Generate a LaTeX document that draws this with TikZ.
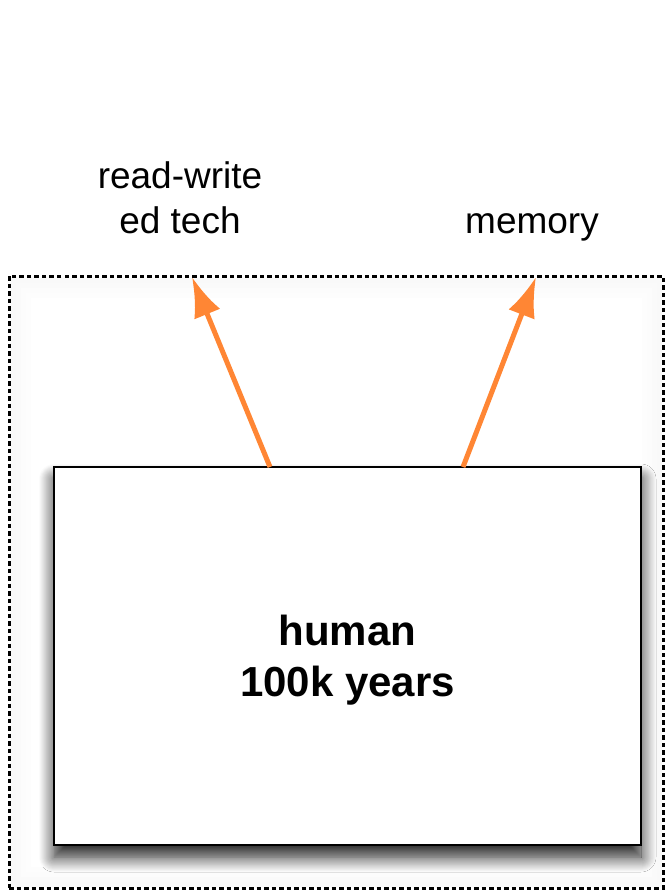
\documentclass[tikz,border=0pt]{standalone}
\usepackage{fontspec}
\setmainfont{Liberation Sans}
\usetikzlibrary{positioning,arrows.meta,shadows.blur}
\definecolor{arroworange}{RGB}{255,134,52}
\tikzset{lbl/.style={align=center,font=\fontsize{37}{45}\selectfont,inner sep=0pt}}
\tikzset{humanbox/.style={draw,line width=2.4pt,fill=white,minimum width=587pt,minimum height=378pt,align=center,
	font=\fontsize{42}{51}\selectfont\bfseries,text depth=0pt,
	blur shadow={shadow xshift=0pt,shadow yshift=-12pt,shadow blur radius=15pt,shadow blur steps=16,shadow opacity=90}}}
\tikzset{orangearrow/.style={-{Latex[length=40pt,width=28pt]},line width=5pt,arroworange}}
\tikzset{frame/.style={draw,dash pattern=on 4.5pt off 3pt,line width=3pt,minimum width=654pt,minimum height=612pt,inner sep=0pt}}

\begin{document}
\begin{tikzpicture}[x=1pt,y=-1pt]
	\useasboundingbox (0,0) rectangle (664,891);
	% soft glow inside the dotted frame
	\foreach \d/\c in {4/2.5,9/1.8,14/1.2,19/0.6}
		\draw[black!\c,line width=5pt] (9+\d,276+\d) rectangle (663-\d,888-\d);
	\node[frame] (fr) at (336,582) {};

	\node[lbl] (rw) at (180,198) {read-write\\ed tech};
	\node[lbl,anchor=base] (mem) at (532,233) {memory};

	\node[humanbox] (hum) at (347.5,656) {human\\100k years};

	\coordinate (rwfoot) at (270,467);
	\coordinate (rwtip) at (192,277);
	\coordinate (memfoot) at (463,467);
	\coordinate (memtip) at (536,277);

	\draw[orangearrow] (rwfoot) -- (rwtip);
	\draw[orangearrow] (memfoot) -- (memtip);
\end{tikzpicture}
\end{document}
